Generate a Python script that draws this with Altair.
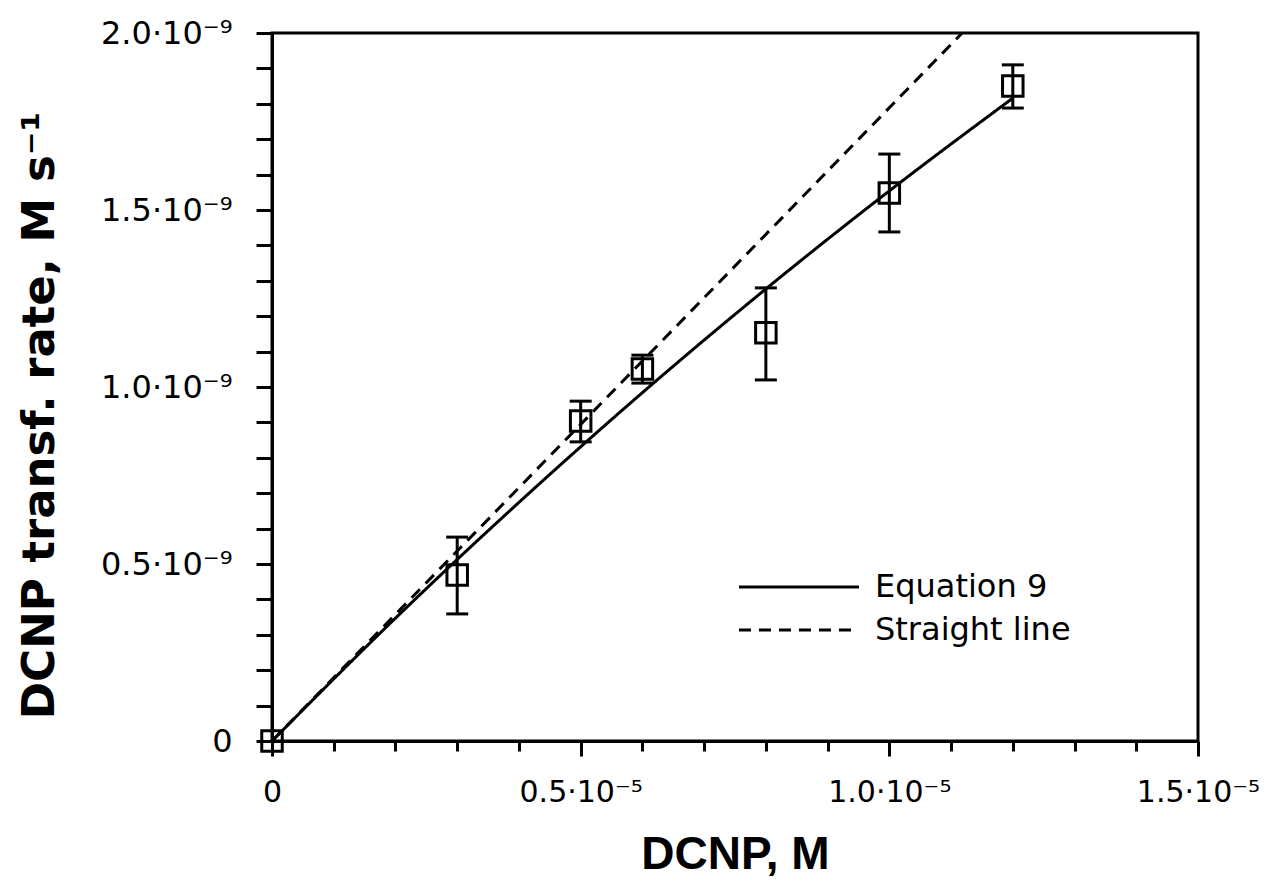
import altair as alt
import pandas as pd

conc = [0.0, 0.3e-5, 0.5e-5, 0.6e-5, 0.8e-5, 1.0e-5, 1.2e-5]
rate = [0.0, 0.469e-9, 0.904e-9, 1.051e-9, 1.153e-9, 1.548e-9, 1.850e-9]
rate_lo = [0.0, 0.359e-9, 0.845e-9, 1.011e-9, 1.020e-9, 1.438e-9, 1.788e-9]
rate_hi = [0.0, 0.576e-9, 0.960e-9, 1.090e-9, 1.280e-9, 1.658e-9, 1.910e-9]

# ---- curves ----
eq9_x = [0.0, 0.2e-5, 0.4e-5, 0.6e-5, 0.8e-5, 1.0e-5, 1.2e-5]
eq9_y = [0.0, 0.347e-9, 0.674e-9, 0.984e-9, 1.277e-9, 1.554e-9, 1.816e-9]
straight_x = [0.0, 1.118e-5]
straight_y = [0.0, 2.0e-9]
series_names = ["Equation 9", "Straight line"]

# ---- axes ----
x_ticks = [0.0, 0.1e-5, 0.2e-5, 0.3e-5, 0.4e-5, 0.5e-5, 0.6e-5, 0.7e-5,
           0.8e-5, 0.9e-5, 1.0e-5, 1.1e-5, 1.2e-5, 1.3e-5, 1.4e-5, 1.5e-5]
x_major = [0.0, 0.5e-5, 1.0e-5, 1.5e-5]
x_major_labels = ["0", "0.5·10⁻⁵", "1.0·10⁻⁵", "1.5·10⁻⁵"]
y_ticks = [0.0, 0.1e-9, 0.2e-9, 0.3e-9, 0.4e-9, 0.5e-9, 0.6e-9, 0.7e-9,
           0.8e-9, 0.9e-9, 1.0e-9, 1.1e-9, 1.2e-9, 1.3e-9, 1.4e-9, 1.5e-9,
           1.6e-9, 1.7e-9, 1.8e-9, 1.9e-9, 2.0e-9]
y_major = [0.0, 0.5e-9, 1.0e-9, 1.5e-9, 2.0e-9]
y_major_labels = ["0", "0.5·10⁻⁹", "1.0·10⁻⁹", "1.5·10⁻⁹", "2.0·10⁻⁹"]

x_title = "DCNP, M"
y_title = "DCNP transf. rate, M s⁻¹"


def label_expr(majors, labels, factor):
    expr = "''"
    for v, lab in reversed(list(zip(majors, labels))):
        k = int(round(v * factor))
        expr = f"round(datum.value*{factor:g}) == {k} ? '{lab}' : ({expr})"
    return expr


pts = pd.DataFrame({"x": conc, "y": rate, "lo": rate_lo, "hi": rate_hi})
err = pts[pts["hi"] > pts["lo"]]
lines = pd.concat([
    pd.DataFrame({"x": eq9_x, "y": eq9_y, "series": series_names[0]}),
    pd.DataFrame({"x": straight_x, "y": straight_y, "series": series_names[1]}),
])

xscale = alt.Scale(domain=[0, 1.5e-5], nice=False, zero=False)
yscale = alt.Scale(domain=[0, 2.0e-9], nice=False, zero=False)

x_axis = alt.Axis(
    values=x_ticks,
    labelExpr=label_expr(x_major, x_major_labels, 1e6),
    tickSize={"condition": {"test": "round(datum.value*1e6) % 5 == 0", "value": 15}, "value": 10},
    labelOverlap=False, labelFlush=False,
    labelFont="DejaVu Sans", labelFontSize=30, labelColor="black",
    labelPadding=21, labelBaseline="top",
    title=x_title, titleFont="Liberation Sans", titleFontWeight="bold", titleFontSize=46,
    titleColor="black", titleX=463, titleY=127, titleBaseline="alphabetic", titleAlign="center",
    grid=False, domainColor="black", domainWidth=3, tickColor="black", tickWidth=3,
)
y_axis = alt.Axis(
    values=y_ticks,
    labelExpr=label_expr(y_major, y_major_labels, 1e10),
    tickSize=16,
    labelOverlap=False, labelFlush=False,
    labelFont="DejaVu Sans", labelFontSize=32, labelColor="black",
    labelPadding=24, labelBaseline="middle",
    title=y_title, titleFont="DejaVu Sans", titleFontWeight="bold", titleFontSize=45,
    titleColor="black", titleX=-219, titleY=382, titleAngle=270,
    titleBaseline="alphabetic", titleAlign="center",
    grid=False, domainColor="black", domainWidth=3, tickColor="black", tickWidth=3,
)


def X(field):
    return alt.X(field, type="quantitative", scale=xscale, axis=x_axis)


def Y(field):
    return alt.Y(field, type="quantitative", scale=yscale, axis=y_axis)


line_layer = alt.Chart(lines).mark_line(color="black", strokeWidth=3, interpolate="monotone").encode(
    x=X("x"),
    y=Y("y"),
    strokeDash=alt.StrokeDash(
        "series:N",
        scale=alt.Scale(domain=series_names, range=[[1, 0], [12, 8]]),
        legend=alt.Legend(
            title=None, orient="none", legendX=511, legendY=538, padding=0,
            symbolType="M-6,0H6", symbolSize=400, symbolStrokeWidth=3,
            symbolStrokeColor="black", labelFont="DejaVu Sans", labelFontSize=32,
            labelColor="black", labelOffset=60, rowPadding=11, labelLimit=600,
        ),
    ),
)

rule_layer = alt.Chart(err).mark_rule(color="black", strokeWidth=3).encode(
    x=X("x"), y=Y("lo"), y2="hi:Q"
)
cap_hi = alt.Chart(err).mark_tick(color="black", orient="horizontal", size=22, thickness=3, opacity=1).encode(
    x=X("x"), y=Y("hi")
)
cap_lo = alt.Chart(err).mark_tick(color="black", orient="horizontal", size=22, thickness=3, opacity=1).encode(
    x=X("x"), y=Y("lo")
)
point_layer = alt.Chart(pts).mark_point(
    shape="square", size=420, filled=False, color="black", strokeWidth=3, opacity=1
).encode(x=X("x"), y=Y("y"))

chart = alt.layer(line_layer, rule_layer, cap_hi, cap_lo, point_layer).properties(
    width=926, height=708,
    autosize=alt.AutoSizeParams(type="none"),
    padding={"left": 264, "top": 25, "right": 63, "bottom": 140},
    background="white",
).configure_view(
    stroke="black", strokeWidth=3
).configure_axis(
    labelOverlap=False, labelFlush=False, domainColor="black", domainWidth=3,
    tickColor="black", tickWidth=3, grid=False,
)

chart.save("out.html", embed_options={"renderer": "svg", "actions": False})
